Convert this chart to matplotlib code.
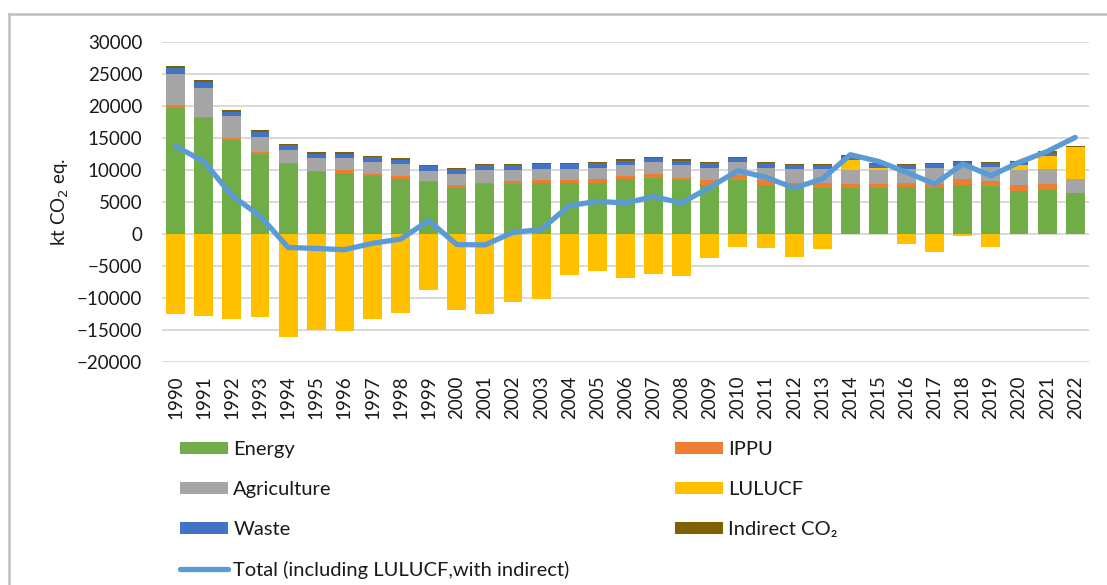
#%% Imports
import matplotlib.pyplot as plt
import numpy as np
from matplotlib.lines import Line2D

plt.rcParams['font.family'] = ['Lato', 'DejaVu Sans']

#%% Data (kt CO2 eq.)
years = [str(y) for y in range(1990, 2023)]

energy = [19600, 18050, 14650, 12500, 10900, 9600, 9550, 8950, 8600, 8050,
          7200, 7800, 7800, 8000, 8000, 8000, 8600, 8750, 8400, 7650,
          8400, 7650, 7100, 7100, 7100, 7100, 7250, 7100, 7650, 7450,
          6700, 6900, 6300]
ippu = [470, 200, 260, 200, 200, 150, 370, 370, 370, 150,
        470, 200, 370, 370, 370, 570, 370, 570, 370, 730,
        730, 730, 890, 890, 730, 730, 730, 730, 940, 730,
        940, 940, 0]
agriculture = [4900, 4580, 3440, 2450, 1980, 2030, 1880, 1880, 1880, 1670,
               1620, 1880, 1720, 1720, 1720, 1720, 1720, 1880, 1930, 1930,
               2080, 1930, 2140, 2140, 2080, 2080, 2080, 2450, 2030, 2290,
               2240, 2290, 2290]
lulucf = [-12550, -12900, -13300, -13050, -16100, -15000, -15150, -13300, -12350, -8750,
          -11900, -12550, -10600, -10200, -6450, -5900, -6900, -6300, -6650, -3850,
          -2000, -2300, -3700, -2350, 1600, 370, -1550, -2850, -400, -2150,
          780, 2030, 4900]
waste = [940, 940, 730, 780, 730, 730, 730, 730, 730, 730,
         780, 780, 780, 780, 780, 730, 730, 620, 730, 730,
         620, 730, 570, 570, 620, 620, 620, 620, 570, 570,
         520, 520, 0]
indirect = [260, 200, 200, 200, 200, 200, 200, 200, 200, 200,
            200, 200, 200, 200, 200, 200, 200, 200, 200, 200,
            200, 200, 200, 200, 200, 200, 200, 200, 200, 200,
            200, 200, 200]
total = [13650, 11300, 5950, 2800, -2150, -2300, -2500, -1500, -850, 2050,
         -1700, -1750, 200, 650, 4400, 5050, 4800, 5800, 4800, 7250,
         9850, 8800, 7150, 8550, 12350, 11300, 9600, 7750, 10900, 9050,
         11150, 12850, 15050]

series = [('Energy', energy, '#70AD47'),
          ('IPPU', ippu, '#ED7D31'),
          ('Agriculture', agriculture, '#A5A5A5'),
          ('LULUCF', lulucf, '#FFC000'),
          ('Waste', waste, '#4472C4'),
          ('Indirect CO\u2082', indirect, '#7F6000')]

#%% Plot
fig = plt.figure(figsize=(11.07, 5.85), dpi=100)
ax = fig.add_axes([0.146, 0.3817, 0.838, 0.547])

x = np.arange(len(years))
pos = np.zeros(len(years))
neg = np.zeros(len(years))
handles = {}
for name, vals, col in series:
    v = np.array(vals, dtype=float)
    bottom = np.where(v >= 0, pos, neg)
    handles[name] = ax.bar(x, v, bottom=bottom, width=0.67, color=col, zorder=2)
    pos = pos + np.where(v >= 0, v, 0)
    neg = neg + np.where(v < 0, v, 0)

line, = ax.plot(x, total, color='#5B9BD5', lw=3.8, zorder=3,
                solid_joinstyle='round', solid_capstyle='round')

ax.set_xlim(-0.5, len(years) - 0.5)
ax.set_ylim(-20000, 30000)
ax.set_yticks(range(-20000, 30001, 5000))
ax.set_xticks(x)
ax.set_xticklabels(years, rotation=90)
ax.yaxis.grid(True, color='#D9D9D9', lw=1.4, zorder=0)
ax.set_axisbelow(True)
for s in ax.spines.values():
    s.set_visible(False)
ax.tick_params(axis='both', length=0, labelsize=13.5, colors='#1a1a1a')
ax.tick_params(axis='y', pad=14)
ax.tick_params(axis='x', pad=10)

ax.set_ylabel('kt CO$_2$ eq.', fontsize=13.5, color='#1a1a1a')
ax.yaxis.set_label_coords(-0.098, 0.5)

#%% Legend in two columns
kw = dict(frameon=False, fontsize=14.5, handlelength=2.4, handleheight=0.6,
          handletextpad=0.25, labelspacing=1.14, borderpad=0, borderaxespad=0,
          loc='upper left')
col1 = [handles['Energy'], handles['Agriculture'], handles['Waste'], line]
lab1 = ['Energy', 'Agriculture', 'Waste', 'Total (including LULUCF,with indirect)']
leg1 = fig.legend(col1, lab1, bbox_to_anchor=(0.1626, 0.246), **kw)
col2 = [handles['IPPU'], handles['LULUCF'], handles['Indirect CO\u2082']]
lab2 = ['IPPU', 'LULUCF', 'Indirect CO\u2082']
leg2 = fig.legend(col2, lab2, bbox_to_anchor=(0.6098, 0.246), **kw)
for leg in (leg1, leg2):
    for t in leg.get_texts():
        t.set_color('#1a1a1a')

# chart frame (left and top edge only)
fig.add_artist(Line2D([0.0081, 0.0081], [0, 0.976], color='#BFBFBF', lw=1.8))
fig.add_artist(Line2D([0.0081, 1], [0.976, 0.976], color='#BFBFBF', lw=1.8))

fig.savefig('out.png', dpi=100)
